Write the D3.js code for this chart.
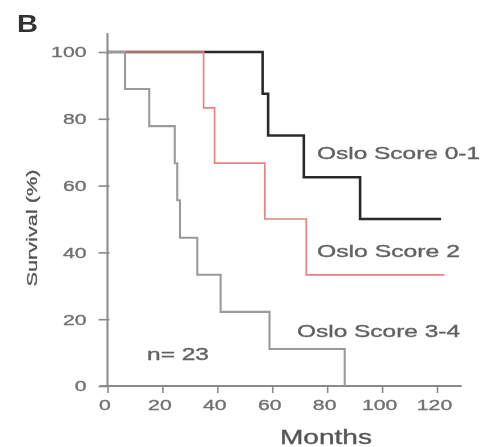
<!DOCTYPE html>
<html>
<head>
<meta charset="utf-8">
<script src="https://cdn.jsdelivr.net/npm/d3@7/dist/d3.min.js"></script>
<style>
  html, body { margin: 0; padding: 0; background: #fff; }
  svg { display: block; }
  text { font-family: "Liberation Sans", Arial, Helvetica, sans-serif; }
</style>
</head>
<body>
<div id="chart"></div>
<script>
// ---- data ----
const xTicks = [0, 20, 40, 60, 80, 100, 120];
const yTicks = [0, 20, 40, 60, 80, 100];

// Oslo Score 0-1 (n=8)
const score01Months = [0, 56.5, 58.5, 71.5, 92, 121.5];
const score01Surv   = [100, 87.5, 75, 62.5, 50, 50];

// Oslo Score 2 (n=6)
const score2Months = [0, 35, 39, 57.3, 72.4, 122.7];
const score2Surv   = [100, 83.3, 66.7, 50, 33.3, 33.3];

// Oslo Score 3-4 (n=9)
const score34Months = [0, 6.4, 15.2, 24.5, 25.4, 26.4, 32.7, 41.2, 59, 86.4];
const score34Surv   = [100, 88.9, 77.8, 66.7, 55.6, 44.4, 33.3, 22.2, 11.1, 0];

const seriesNames = ["Oslo Score 0-1", "Oslo Score 2", "Oslo Score 3-4"];
const nLabel = "n= 23";

// ---- drawing ----
const W = 484, H = 447;
const svg = d3.select("#chart").append("svg").attr("width", W).attr("height", H);

const defs = svg.append("defs");
defs.append("filter").attr("id", "soft")
  .append("feGaussianBlur").attr("stdDeviation", 0.45);

const g = svg.append("g").attr("filter", "url(#soft)");

const x = d3.scaleLinear().domain([0, 120]).range([107.5, 437]);
const y = d3.scaleLinear().domain([0, 100]).range([386, 52]);

const axisColor = "#8a8a8a";
const tickText = "#707070";

// X axis
const xAxis = g.append("g").attr("transform", `translate(0,${y(0)})`)
  .call(d3.axisBottom(x).tickValues(xTicks).tickSize(7).tickSizeOuter(0).tickPadding(6));
xAxis.select(".domain").remove();
xAxis.append("line")
  .attr("x1", x(-2.8)).attr("x2", x(129))
  .attr("y1", 0).attr("y2", 0)
  .attr("stroke", axisColor).attr("stroke-width", 2);
xAxis.selectAll(".tick line").attr("stroke", axisColor).attr("stroke-width", 1.6);
xAxis.selectAll(".tick text")
  .attr("fill", tickText).attr("font-size", 15.5)
  .attr("stroke", tickText).attr("stroke-width", 0.35)
  .attr("dx", -3)
  .attr("textLength", d => String(d).length * 11.8)
  .attr("lengthAdjust", "spacingAndGlyphs");

// Y axis
const yAxis = g.append("g").attr("transform", `translate(${x(0)},0)`)
  .call(d3.axisLeft(y).tickValues(yTicks).tickSize(8).tickSizeOuter(0).tickPadding(13));
yAxis.select(".domain").remove();
yAxis.append("line")
  .attr("x1", 0).attr("x2", 0)
  .attr("y1", y(105.7)).attr("y2", y(0))
  .attr("stroke", axisColor).attr("stroke-width", 2);
yAxis.selectAll(".tick line").attr("stroke", axisColor).attr("stroke-width", 1.6).attr("x2", -9).attr("x1", 2);
yAxis.selectAll(".tick text")
  .attr("fill", tickText).attr("font-size", 15.5)
  .attr("stroke", tickText).attr("stroke-width", 0.35)
  .attr("textLength", d => String(d).length * 11.8)
  .attr("lengthAdjust", "spacingAndGlyphs");

// curves
const line = d3.line().x(d => x(d[0])).y(d => y(d[1])).curve(d3.curveStepAfter);
const zip = (a, b) => a.map((v, i) => [v, b[i]]);

const series = [
  { pts: zip(score01Months, score01Surv), color: "#2b2b2b", w: 2.6 },
  { pts: zip(score2Months, score2Surv),   color: "#e8837d", w: 1.7 },
  { pts: zip(score34Months, score34Surv), color: "#9a9a9a", w: 2.1 }
];
g.selectAll("path.km").data(series).join("path")
  .attr("class", "km")
  .attr("d", d => line(d.pts))
  .attr("fill", "none")
  .attr("stroke", d => d.color)
  .attr("stroke-width", d => d.w);

// series labels
const labelPos = [
  { x: 317, y: 159, len: 163 },
  { x: 317, y: 257, len: 143 },
  { x: 297, y: 337, len: 163 }
];
g.selectAll("text.lab").data(seriesNames).join("text")
  .attr("class", "lab")
  .attr("x", (d, i) => labelPos[i].x)
  .attr("y", (d, i) => labelPos[i].y)
  .attr("font-size", 17)
  .attr("fill", "#626262")
  .attr("stroke", "#626262").attr("stroke-width", 0.35)
  .attr("textLength", (d, i) => labelPos[i].len)
  .attr("lengthAdjust", "spacingAndGlyphs")
  .text(d => d);

// n label
g.append("text").attr("x", 147).attr("y", 360)
  .attr("font-size", 17).attr("fill", "#626262")
  .attr("stroke", "#626262").attr("stroke-width", 0.35)
  .attr("textLength", 62).attr("lengthAdjust", "spacingAndGlyphs")
  .text(nLabel);

// axis titles
g.append("text").attr("x", 280).attr("y", 444)
  .attr("font-size", 20).attr("fill", "#555")
  .attr("stroke", "#555").attr("stroke-width", 0.35)
  .attr("textLength", 92).attr("lengthAdjust", "spacingAndGlyphs")
  .text("Months");

g.append("text")
  .attr("transform", "translate(37,228) rotate(-90)")
  .attr("text-anchor", "middle")
  .attr("font-size", 15.5).attr("fill", "#555")
  .attr("stroke", "#555").attr("stroke-width", 0.3)
  .attr("textLength", 117).attr("lengthAdjust", "spacingAndGlyphs")
  .text("Survival (%)");

// panel letter
g.append("text").attr("x", 17).attr("y", 32)
  .attr("font-size", 23).attr("font-weight", "bold").attr("fill", "#333")
  .attr("textLength", 21).attr("lengthAdjust", "spacingAndGlyphs")
  .text("B");
</script>
</body>
</html>
